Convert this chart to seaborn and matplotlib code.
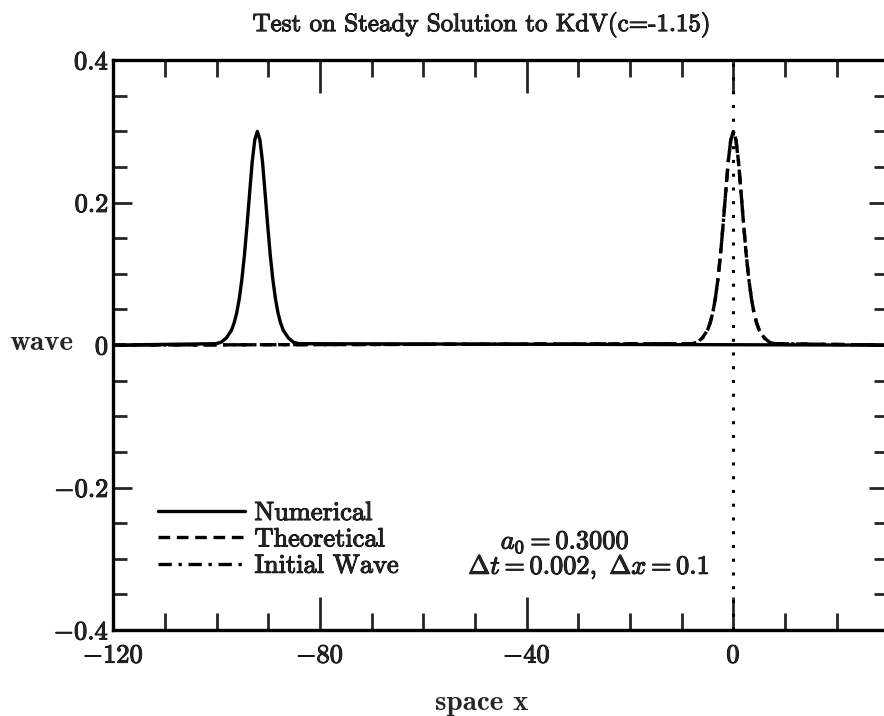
import numpy as np
import pandas as pd
import seaborn as sns
from matplotlib import pyplot as plt
from matplotlib import patheffects as pe
from matplotlib.ticker import MultipleLocator

# soliton profile (offset from crest, height)
pulse_offset = [-8, -7, -6, -5, -4.5, -4, -3.5, -3, -2.5, -2, -1.5, -1, -0.5, 0,
                0.5, 1, 1.5, 2, 2.5, 3, 3.5, 4, 4.5, 5, 6, 7, 8]
pulse_height = [0.002, 0.004, 0.010, 0.021, 0.031, 0.045, 0.065, 0.092, 0.126, 0.168, 0.213, 0.257, 0.288, 0.300,
                0.288, 0.257, 0.213, 0.168, 0.126, 0.092, 0.065, 0.045, 0.031, 0.021, 0.010, 0.004, 0.002]
numerical_crest = -92.1
theoretical_crest = 0.0
initial_crest = 0.0
x_start, x_end = -120, 30

x_ticks = [-120, -80, -40, 0]
x_ticklabels = [r'$\mathbf{-120}$', r'$\mathbf{-80}$', r'$\mathbf{-40}$', r'$\mathbf{0}$']
y_ticks = [-0.4, -0.2, 0, 0.2, 0.4]
y_ticklabels = [r'$\mathbf{-0.4}$', r'$\mathbf{-0.2}$', r'$\mathbf{0}$', r'$\mathbf{0.2}$', r'$\mathbf{0.4}$']


def wave(crest):
    xs = [x_start] + [crest + d for d in pulse_offset] + [x_end]
    ys = [0.0] + pulse_height + [0.0]
    return pd.DataFrame({'x': xs, 'u': ys})


sns.set_theme(style='ticks')
plt.rcParams['font.family'] = ['cmr10', 'DejaVu Serif']
plt.rcParams['mathtext.fontset'] = 'cm'
plt.rcParams['axes.formatter.use_mathtext'] = True

# scanned print looks heavier, thicken the glyphs a bit
thick = [pe.withStroke(linewidth=0.7, foreground='black')]

fig = plt.figure(figsize=(8.84, 7.16), dpi=100)
ax = fig.add_axes([0.128, 0.12, 0.877, 0.796])

lw = 2.4
sns.lineplot(data=wave(numerical_crest), x='x', y='u', ax=ax, color='black', lw=lw,
             sort=False, label='Numerical')
sns.lineplot(data=wave(theoretical_crest), x='x', y='u', ax=ax, color='black', lw=lw,
             sort=False, label='Theoretical', linestyle=(0, (3.5, 2)))
sns.lineplot(data=wave(initial_crest), x='x', y='u', ax=ax, color='black', lw=lw,
             sort=False, label='Initial Wave', linestyle=(0, (4, 2, 1, 2)))
ax.axvline(0, color='black', lw=2.2, linestyle=(0, (1, 3.5)))

ax.set_xlim(x_start, x_end)
ax.set_ylim(-0.4, 0.4)
ax.set_xticks(x_ticks)
ax.set_xticklabels(x_ticklabels)
ax.set_yticks(y_ticks)
ax.set_yticklabels(y_ticklabels)
ax.xaxis.set_minor_locator(MultipleLocator(10))
ax.yaxis.set_minor_locator(MultipleLocator(0.05))
ax.tick_params(axis='x', which='major', direction='in', length=24, width=2, top=True,
               labelsize=19, pad=10)
ax.tick_params(axis='x', which='minor', direction='in', length=12, width=2, top=True)
ax.tick_params(axis='y', which='major', direction='in', length=14, width=2, right=True,
               labelsize=19, pad=3)
ax.tick_params(axis='y', which='minor', direction='in', length=10, width=2, right=True)
for s in ax.spines.values():
    s.set_linewidth(2.4)
    s.set_color('black')
for t in ax.get_xticklabels() + ax.get_yticklabels():
    t.set_path_effects(thick)

fig.text(0.545, 0.965, 'Test on Steady Solution to KdV(c=-1.15)', fontsize=18,
         ha='center', va='center', path_effects=thick)
ax.set_xlabel('space x', fontsize=21, family='cmb10')
ax.xaxis.set_label_coords(0.476, -0.128)
ax.xaxis.label.set_va('center')
ax.set_ylabel('wave', fontsize=21, family='cmb10', rotation=0, va='center', ha='center')
ax.yaxis.set_label_coords(-0.093, 0.504)

leg = ax.legend(loc='upper left', bbox_to_anchor=(0.058, 0.226), frameon=False, fontsize=19,
                handlelength=3.3, handletextpad=0.35, labelspacing=0.1, borderaxespad=0,
                borderpad=0)
for t in leg.get_texts():
    t.set_path_effects(thick)

ax.text(0.583, 0.154, r'$a_0 = 0.3000$', transform=ax.transAxes, ha='center',
        va='center', fontsize=19, path_effects=thick)
ax.text(0.458, 0.11, r'$\Delta t = 0.002,\ \Delta x = 0.1$', transform=ax.transAxes,
        ha='left', va='center', fontsize=19, path_effects=thick)

fig.savefig('out.png', dpi=100)
